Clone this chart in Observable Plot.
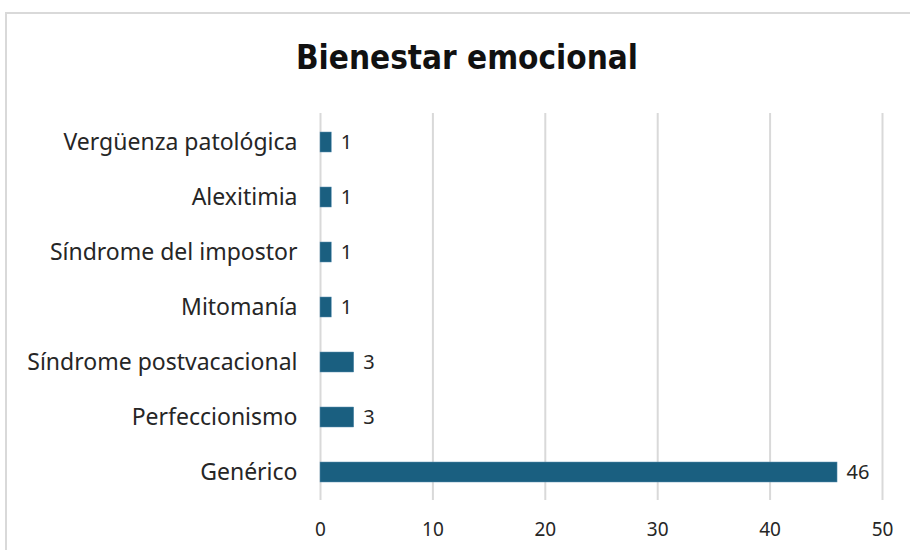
<!DOCTYPE html>
<html><head><meta charset="utf-8">
<script src="https://cdn.jsdelivr.net/npm/d3@7"></script>
<script src="https://cdn.jsdelivr.net/npm/@observablehq/plot@0.6"></script>
<style>
body{margin:0;background:#fff;width:910px;height:550px;overflow:hidden;position:relative;}
#frame{position:absolute;left:5px;top:12px;width:940px;height:560px;border:2px solid #d9d9d9;box-sizing:border-box;}
#title{position:absolute;left:0;top:38px;width:934px;text-align:center;font-family:"DejaVu Sans Condensed","DejaVu Sans";font-weight:bold;font-size:33px;color:#111;}
#chart{position:absolute;left:0;top:100px;}
</style></head>
<body>
<div id="frame"></div>
<div id="title">Bienestar emocional</div>
<div id="chart"></div>
<script>
const categories = ["Vergüenza patológica","Alexitimia","Síndrome del impostor","Mitomanía","Síndrome postvacacional","Perfeccionismo","Genérico"];
const values = [1,1,1,1,3,3,46];
const xTicks = [0,10,20,30,40,50];
const data = categories.map((c,i)=>({cat:c, v:values[i]}));
const plot = Plot.plot({
  width: 910, height: 450,
  marginLeft: 320, marginRight: 28, marginTop: 13, marginBottom: 50,
  style: {fontFamily: "'Noto Sans', sans-serif", fontSize: "19px", color: "#262626", background: "transparent"},
  x: {domain: [0,50], ticks: xTicks, label: null, tickSize: 0, tickPadding: 22, grid: false},
  y: {domain: categories, label: null, tickSize: 0, tickPadding: 23, paddingInner: 0.64, paddingOuter: 0.3},
  marks: [
    Plot.ruleX(xTicks, {stroke: "#d9d9d9", strokeWidth: 2, strokeOpacity: 1}),
    Plot.barX(data, {y: "cat", x: "v", fill: "#1a5f80", stroke: "#5b8fb0", strokeWidth: 0.5}),
    Plot.text(data, {y: "cat", x: "v", text: d => String(d.v), textAnchor: "start", dx: 9, fontSize: 20, fill: "#262626"}),
    Plot.axisY({tickSize: 0, tickPadding: 23, fontSize: 23, label: null})
  ]
});
document.getElementById("chart").appendChild(plot);
</script>
</body></html>
